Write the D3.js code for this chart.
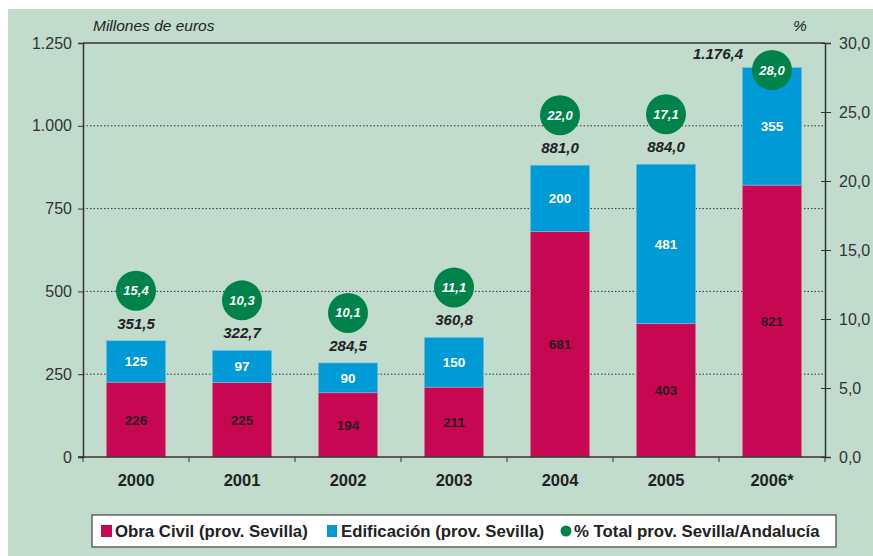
<!DOCTYPE html>
<html>
<head>
<meta charset="utf-8">
<script src="https://cdn.jsdelivr.net/npm/d3@7"></script>
<style>
  body { margin: 0; background: #fff; }
  svg { display: block; font-family: "Liberation Sans", Arial, sans-serif; }
</style>
</head>
<body>
<svg id="chart" width="873" height="556"></svg>
<script>
// data
const years = ["2000", "2001", "2002", "2003", "2004", "2005", "2006*"];
const obraCivil = [226, 225, 194, 211, 681, 403, 821];
const edificacion = [125, 97, 90, 150, 200, 481, 355];
const totals = ["351,5", "322,7", "284,5", "360,8", "881,0", "884,0", "1.176,4"];
const pctTotal = ["15,4", "10,3", "10,1", "11,1", "22,0", "17,1", "28,0"];
const leftTicks = [0, 250, 500, 750, 1000, 1250];
const rightTicks = [0, 5, 10, 15, 20, 25, 30];

const svg = d3.select("#chart");
const W = 873, H = 556;
const m = { left: 83, right: 825, top: 43, bottom: 457 };

svg.append("rect").attr("x", 8).attr("y", 9).attr("width", W - 8).attr("height", H - 9).attr("fill", "#c1dccd");

const x = d3.scaleBand().domain(years).range([m.left, m.right]).paddingInner(0.44).paddingOuter(0.22);
const y = d3.scaleLinear().domain([0, 1250]).range([m.bottom, m.top]);
const yR = d3.scaleLinear().domain([0, 30]).range([m.bottom, m.top]);

const fmtL = d3.formatLocale({ decimal: ",", thousands: ".", grouping: [3] });

// dotted grid
svg.append("g").selectAll("line").data(leftTicks.filter(d => d > 0 && d < 1250)).join("line")
  .attr("x1", m.left).attr("x2", m.right)
  .attr("y1", d => y(d)).attr("y2", d => y(d))
  .attr("stroke", "#333").attr("stroke-width", 1).attr("stroke-dasharray", "1.5,2");

// top border
svg.append("line").attr("x1", m.left).attr("x2", m.right).attr("y1", m.top).attr("y2", m.top)
  .attr("stroke", "#333").attr("stroke-width", 1.5);

// bars
const data = years.map((yr, i) => ({ yr, a: obraCivil[i], b: edificacion[i], t: totals[i], p: pctTotal[i] }));
const g = svg.append("g");
g.selectAll(".oc").data(data).join("rect")
  .attr("x", d => x(d.yr)).attr("width", x.bandwidth())
  .attr("y", d => y(d.a)).attr("height", d => y(0) - y(d.a))
  .attr("fill", "#c70751").attr("stroke", "#d58aa3").attr("stroke-width", 0.6);
g.selectAll(".ed").data(data).join("rect")
  .attr("x", d => x(d.yr)).attr("width", x.bandwidth())
  .attr("y", d => y(d.a + d.b)).attr("height", d => y(d.a) - y(d.a + d.b))
  .attr("fill", "#009ad6").attr("stroke", "#7cc3e0").attr("stroke-width", 0.6);

// segment labels
g.selectAll(".la").data(data).join("text")
  .attr("x", d => x(d.yr) + x.bandwidth() / 2).attr("y", d => y(d.a / 2) + 5)
  .attr("text-anchor", "middle").attr("font-size", 13.5).attr("font-weight", "bold").attr("fill", "#2a1a22")
  .text(d => d.a);
g.selectAll(".lb").data(data).join("text")
  .attr("x", d => x(d.yr) + x.bandwidth() / 2).attr("y", d => y(d.a + d.b / 2) + 5)
  .attr("text-anchor", "middle").attr("font-size", 13.5).attr("font-weight", "bold").attr("fill", "#fff")
  .text(d => d.b);

// circles above bars
const off = 50;
const cyOf = d => Math.max(y(d.a + d.b) - off, m.top + 27);
const clamped = d => y(d.a + d.b) - off < m.top + 27;
g.selectAll(".pc").data(data).join("circle")
  .attr("cx", d => x(d.yr) + x.bandwidth() / 2).attr("cy", cyOf).attr("r", 20)
  .attr("fill", "#00834b");
g.selectAll(".pt").data(data).join("text")
  .attr("x", d => x(d.yr) + x.bandwidth() / 2).attr("y", d => cyOf(d) + 4.5)
  .attr("text-anchor", "middle").attr("font-size", 13).attr("font-weight", "bold").attr("font-style", "italic")
  .attr("fill", "#fff").text(d => d.p);

// totals
g.selectAll(".tt").data(data).join("text")
  .attr("x", d => x(d.yr) + x.bandwidth() / 2 - (clamped(d) ? 54 : 0))
  .attr("y", d => y(d.a + d.b) - (clamped(d) ? 9 : 12))
  .attr("text-anchor", "middle").attr("font-size", 15).attr("font-weight", "bold").attr("font-style", "italic")
  .attr("fill", "#222").text(d => d.t);

// left axis
const axL = svg.append("g").attr("transform", `translate(${m.left},0)`)
  .call(d3.axisLeft(y).tickValues(leftTicks).tickSize(5).tickPadding(6).tickFormat(d => fmtL.format(",")(d)));
axL.select(".domain").attr("stroke", "#333").attr("stroke-width", 1.5);
axL.selectAll(".tick line").attr("stroke", "#333");
axL.selectAll("text").attr("font-size", 16).attr("fill", "#333").attr("font-family", "Liberation Sans, Arial, sans-serif");

// right axis
const axR = svg.append("g").attr("transform", `translate(${m.right},0)`)
  .call(d3.axisRight(yR).tickValues(rightTicks).tickSize(6).tickPadding(8).tickFormat(d => fmtL.format(".1f")(d)));
axR.select(".domain").attr("stroke", "#333").attr("stroke-width", 1.5);
axR.selectAll(".tick line").attr("stroke", "#333").attr("x1", -4);
axR.selectAll("text").attr("font-size", 16).attr("fill", "#333").attr("font-family", "Liberation Sans, Arial, sans-serif");

// bottom axis
svg.append("line").attr("x1", m.left - 5).attr("x2", m.right).attr("y1", m.bottom).attr("y2", m.bottom)
  .attr("stroke", "#333").attr("stroke-width", 1.5);
const bounds = years.map(d => x(d) - x.step() * x.paddingInner() / 2).concat([m.right]);
svg.append("g").selectAll("line").data(bounds).join("line")
  .attr("x1", d => d).attr("x2", d => d).attr("y1", m.bottom).attr("y2", m.bottom + 5)
  .attr("stroke", "#333");
svg.append("g").selectAll("text").data(years).join("text")
  .attr("x", d => x(d) + x.bandwidth() / 2).attr("y", 486)
  .attr("text-anchor", "middle").attr("font-size", 16.5).attr("font-weight", "bold").attr("fill", "#222")
  .text(d => d);

// axis titles
svg.append("text").attr("x", 93).attr("y", 31).attr("font-size", 15.5).attr("font-style", "italic").attr("fill", "#222").text("Millones de euros");
svg.append("text").attr("x", 793).attr("y", 31).attr("font-size", 15.5).attr("font-style", "italic").attr("fill", "#222").text("%");

// legend
svg.append("rect").attr("x", 92).attr("y", 515).attr("width", 744).attr("height", 32)
  .attr("fill", "#fff").attr("stroke", "#444").attr("stroke-width", 1.2);
const lg = svg.append("g").attr("font-size", 16.8).attr("font-weight", "bold").attr("fill", "#222");
lg.append("rect").attr("x", 101).attr("y", 525).attr("width", 11).attr("height", 12).attr("fill", "#c70751");
lg.append("text").attr("x", 115).attr("y", 537).text("Obra Civil (prov. Sevilla)");
lg.append("rect").attr("x", 327).attr("y", 525).attr("width", 10).attr("height", 12).attr("fill", "#009ad6");
lg.append("text").attr("x", 341).attr("y", 537).text("Edificación (prov. Sevilla)");
lg.append("circle").attr("cx", 566).attr("cy", 531).attr("r", 5.5).attr("fill", "#00834b");
lg.append("text").attr("x", 574).attr("y", 537).text("% Total prov. Sevilla/Andalucía");
</script>
</body>
</html>
